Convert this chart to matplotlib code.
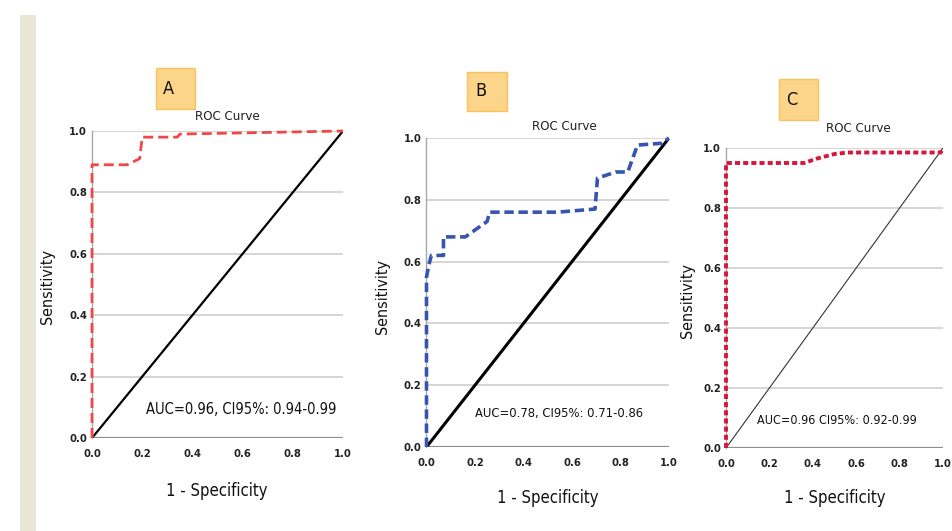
import matplotlib
matplotlib.use("Agg")
import matplotlib.pyplot as plt
from matplotlib.patches import Rectangle

# ROC points
a_fpr = [0.0, 0.0, 0.14, 0.19, 0.20, 0.34, 0.35, 1.0]
a_tpr = [0.0, 0.89, 0.89, 0.91, 0.98, 0.98, 0.99, 1.0]

b_fpr = [0.0, 0.0, 0.01, 0.02, 0.07, 0.07, 0.16, 0.25, 0.26, 0.54, 0.695,
         0.705, 0.78, 0.83, 0.87, 0.97, 1.0]
b_tpr = [0.0, 0.55, 0.59, 0.62, 0.62, 0.68, 0.68, 0.73, 0.76, 0.76, 0.77,
         0.87, 0.89, 0.89, 0.977, 0.983, 1.0]

c_fpr = [0.0, 0.0, 0.36, 0.42, 0.50, 0.56, 0.99, 1.0]
c_tpr = [0.0, 0.95, 0.95, 0.965, 0.98, 0.985, 0.985, 1.0]

panel_letters = ["A", "B", "C"]
auc_labels = ["AUC=0.96, CI95%: 0.94-0.99",
              "AUC=0.78, CI95%: 0.71-0.86",
              "AUC=0.96 CI95%: 0.92-0.99"]
ticks = [0.0, 0.2, 0.4, 0.6, 0.8, 1.0]
tick_labels = ["0.0", "0.2", "0.4", "0.6", "0.8", "1.0"]

W, H = 953, 531
plt.rcParams["font.family"] = ["DejaVu Sans"]
plt.rcParams["font.stretch"] = "condensed"

fig = plt.figure(figsize=(W / 100, H / 100), dpi=100)


def fx(x):
    return x / W


def fy(y):
    return 1 - y / H


def px_axes(x0, x1, ytop, ybot):
    return fig.add_axes([fx(x0), fy(ybot), (x1 - x0) / W, (ybot - ytop) / H])


# beige strip on the left edge
fig.patches.append(Rectangle((fx(20), 0), 16 / W, fy(15), transform=fig.transFigure,
                             facecolor="#e9e6d6", edgecolor="none"))

panels = [
    dict(box=(92, 343, 131, 438), fpr=a_fpr, tpr=a_tpr, color="#f04848",
         lw=2.0, dashes=(3.6, 1.8), diag_lw=1.6, diag_c="black",
         letter_box=(156, 195, 68, 109), letter_xy=(163, 89),
         title_xy=(227, 117), ylab_xy=(48, 287), xlab_xy=(217, 491),
         auc_xy=(241, 409), auc_fs=10.5),
    dict(box=(426.5, 669, 138, 447), fpr=b_fpr, tpr=b_tpr, color="#3555b0",
         lw=2.6, dashes=(2.6, 1.3), diag_lw=2.2, diag_c="black",
         letter_box=(467, 507, 72, 111), letter_xy=(475, 91),
         title_xy=(564, 127), ylab_xy=(383, 296), xlab_xy=(548, 498),
         auc_xy=(559, 414), auc_fs=9.3),
    dict(box=(726, 943, 148, 448), fpr=c_fpr, tpr=c_tpr, color="#d6163c",
         lw=2.8, dashes=(1.3, 0.8), diag_lw=0.8, diag_c="#333333",
         letter_box=(779, 818, 79, 120), letter_xy=(786, 100),
         title_xy=(858, 129), ylab_xy=(688, 300), xlab_xy=(835, 498),
         auc_xy=(837, 420), auc_fs=9.0),
]

for letter, auc, p in zip(panel_letters, auc_labels, panels):
    ax = px_axes(*p["box"])
    ax.set_xlim(0, 1)
    ax.set_ylim(0, 1)
    for t in ticks[1:]:
        ax.axhline(t, color="#d2d2d2", lw=1.3, zorder=1)
    ax.axhline(0, color="#8f8f8f", lw=1.6, zorder=1)
    for s in ["top", "right", "bottom"]:
        ax.spines[s].set_visible(False)
    ax.spines["left"].set_color("#a8a8a8")
    ax.spines["left"].set_linewidth(1.0)
    ax.set_xticks(ticks)
    ax.set_yticks(ticks)
    ax.set_xticklabels(tick_labels, fontsize=8, fontweight="bold", color="#222222")
    ax.set_yticklabels(tick_labels, fontsize=8, fontweight="bold", color="#222222")
    ax.tick_params(length=0)
    ax.tick_params(axis="x", pad=8)
    ax.tick_params(axis="y", pad=3.5)
    ax.patch.set_alpha(0)

    ax.plot([0, 1], [0, 1], color=p["diag_c"], lw=p["diag_lw"], zorder=2)
    ax.plot(p["fpr"], p["tpr"], color=p["color"], lw=p["lw"],
            dashes=p["dashes"], dash_capstyle="butt", zorder=3, clip_on=False)

    x0, x1, y0, y1 = p["letter_box"]
    fig.patches.append(Rectangle((fx(x0), fy(y1)), (x1 - x0) / W, (y1 - y0) / H,
                                 transform=fig.transFigure, facecolor="#fdd58a",
                                 edgecolor="#f7c35e", lw=1.0))
    fig.text(fx(p["letter_xy"][0]), fy(p["letter_xy"][1]), letter, fontsize=13,
             ha="left", va="center", color="#111111")
    fig.text(fx(p["title_xy"][0]), fy(p["title_xy"][1]), "ROC Curve", fontsize=9.5,
             ha="center", va="center", color="#222222")
    fig.text(fx(p["ylab_xy"][0]), fy(p["ylab_xy"][1]), "Sensitivity", fontsize=11.5,
             ha="center", va="center", rotation=90, color="#111111")
    fig.text(fx(p["xlab_xy"][0]), fy(p["xlab_xy"][1]), "1 - Specificity", fontsize=12,
             ha="center", va="center", color="#111111")
    fig.text(fx(p["auc_xy"][0]), fy(p["auc_xy"][1]), auc, fontsize=p["auc_fs"],
             ha="center", va="center", color="#111111")

fig.savefig("out.png", dpi=100)
